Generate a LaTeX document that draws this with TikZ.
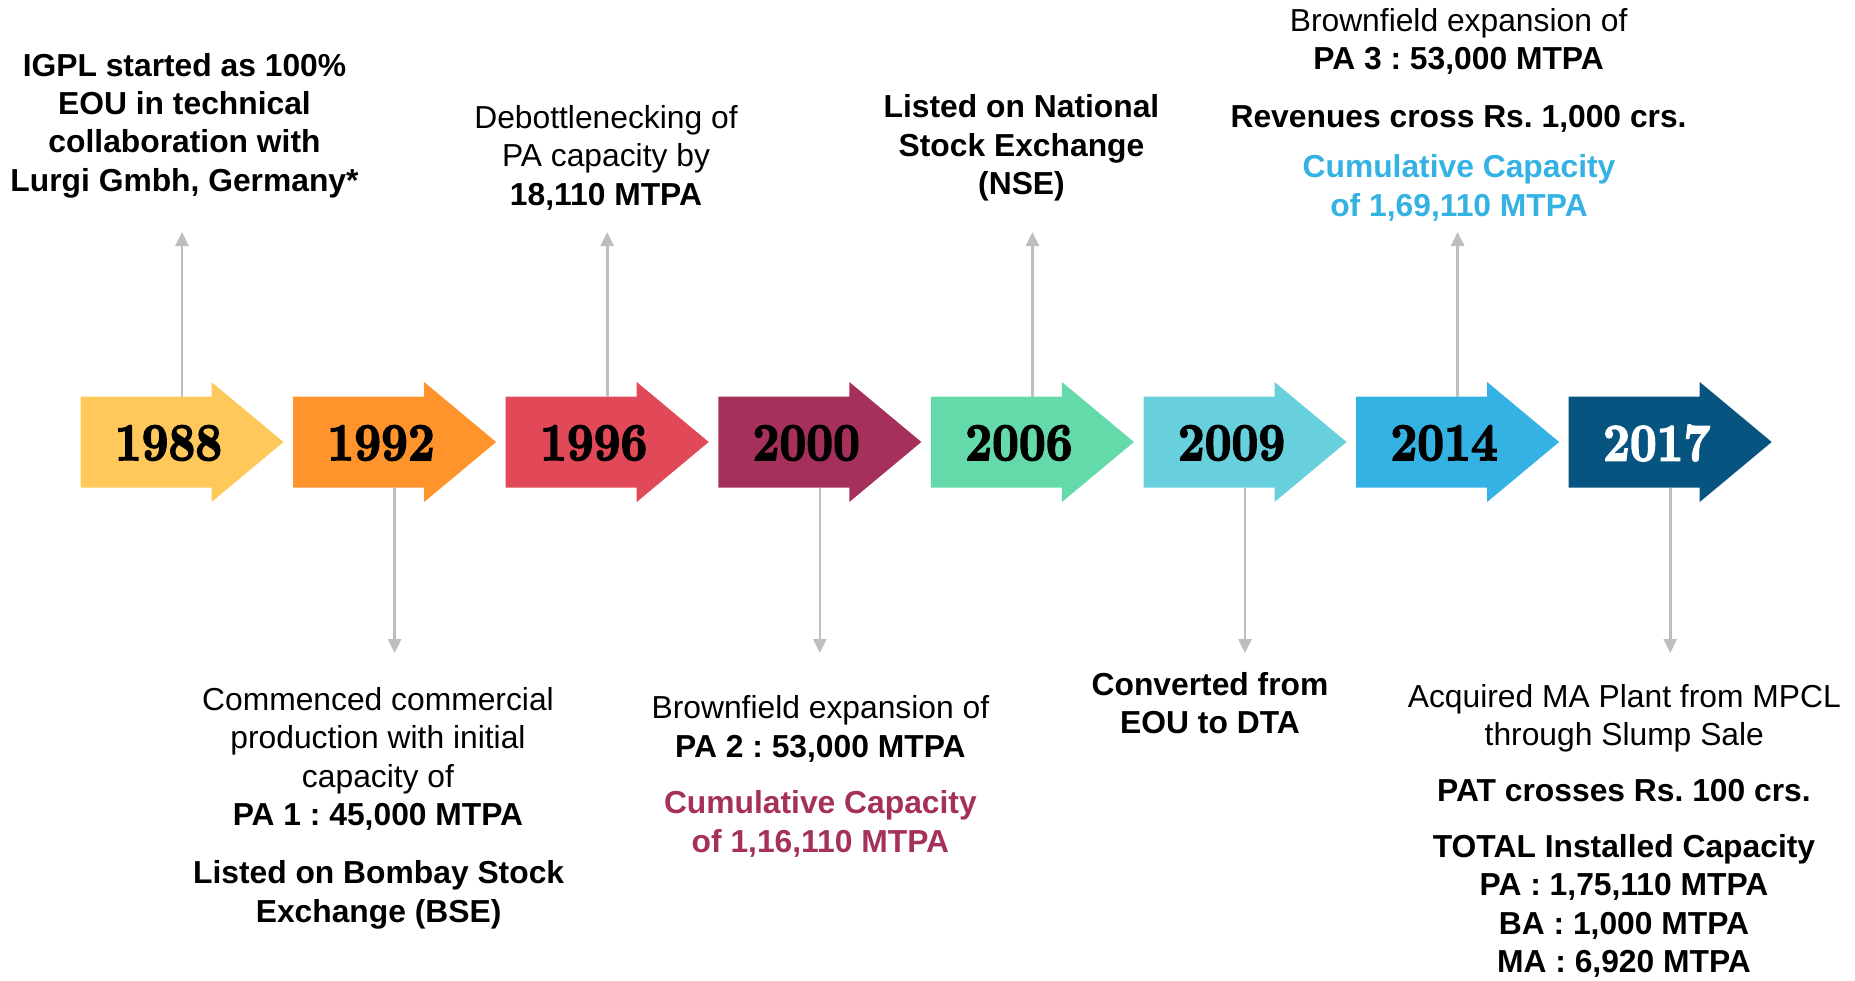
\documentclass[tikz,border=0pt]{standalone}
\usepackage{fontspec}
\usepackage{graphicx}
\newfontfamily\arialfont{Liberation Sans}
\newfontfamily\yearfont{lmroman10-bold.otf}[FakeBold=3]
\usetikzlibrary{arrows.meta,calc}
\definecolor{c1988}{RGB}{254,200,90}
\definecolor{c1992}{RGB}{255,148,44}
\definecolor{c1996}{RGB}{226,73,88}
\definecolor{c2000}{RGB}{165,48,92}
\definecolor{c2006}{RGB}{100,218,170}
\definecolor{c2009}{RGB}{103,208,220}
\definecolor{c2014}{RGB}{53,178,228}
\definecolor{c2017}{RGB}{8,84,128}
\definecolor{linegray}{RGB}{190,190,190}
\tikzset{
  shaft/.style={minimum width=131pt, minimum height=91pt, inner sep=0pt, outer sep=0pt},
  yeartxt/.style={font=\yearfont\fontsize{53}{60}\selectfont, inner sep=0pt},
  conn/.style={draw=linegray, line width=2.6pt, -{Triangle[width=13pt,length=14pt]}},
  txt/.style={font=\arialfont\fontsize{31.8}{38.4}\selectfont\frenchspacing, align=center, inner sep=0pt},
  btxt/.style={font=\arialfont\bfseries\fontsize{31.8}{38.4}\selectfont\frenchspacing, align=center, inner sep=0pt},
}
\begin{document}
\frenchspacing
\begin{tikzpicture}[x=1pt,y=-1pt]
\fill[white] (0,0) rectangle (1855,980);
\useasboundingbox (0,0) rectangle (1855,980);

\foreach \yr/\col/\tc [count=\i from 0] in {1988/c1988/black,1992/c1992/black,1996/c1996/black,2000/c2000/black,2006/c2006/black,2009/c2009/black,2014/c2014/black,2017/c2017/white} {
  \pgfmathsetmacro\L{80.5+212.6*\i}
  \node[shaft] (a\yr) at (\L+65.5,442) {};
  \fill[\col] (a\yr.north west) -- (a\yr.north east) -- ++(0,-14.5) -- ($(a\yr.east)+(72,0)$) -- ($(a\yr.south east)+(0,14.5)$) -- (a\yr.south east) -- (a\yr.south west) -- cycle;
  \node[yeartxt, text=\tc] (y\yr) at (\L+88,443) {\scalebox{0.88}[1]{\yr}};
}
% connector end points
\coordinate (t1988) at (182,232);
\coordinate (t1992) at (394.6,653);
\coordinate (t1996) at (607.2,232);
\coordinate (t2000) at (819.8,653);
\coordinate (t2006) at (1032.4,232);
\coordinate (t2009) at (1245,653);
\coordinate (t2014) at (1457.6,232);
\coordinate (t2017) at (1670.2,653);
\draw[conn] (t1988 |- a1988.north) -- (t1988);
\draw[conn] (t1992 |- a1992.south) -- (t1992);
\draw[conn] (t1996 |- a1996.north) -- (t1996);
\draw[conn] (t2000 |- a2000.south) -- (t2000);
\draw[conn] (t2006 |- a2006.north) -- (t2006);
\draw[conn] (t2009 |- a2009.south) -- (t2009);
\draw[conn] (t2014 |- a2014.north) -- (t2014);
\draw[conn] (t2017 |- a2017.south) -- (t2017);

% texts above
\node[btxt] (d1988) at (184.5,125.5) {IGPL started as 100\%\\EOU in technical\\collaboration with\\Lurgi Gmbh, Germany*};
\node[txt] (d1996) at (606,157.7) {Debottlenecking of\\PA capacity by\\\textbf{18,110 MTPA}};
\node[btxt] (d2006) at (1021.5,148) {Listed on National\\Stock Exchange\\(NSE)};
\node[txt] (d2014a) at (1458.6,41.7) {Brownfield expansion of\\\textbf{PA 3 : 53,000 MTPA}};
\node[btxt] (d2014b) at (1458.6,119) {Revenues cross Rs. 1,000 crs.};
\node[btxt, text=c2014] (d2014c) at (1459,188) {Cumulative Capacity\\of 1,69,110 MTPA};
% texts below
\node[txt] (d1992a) at (378,759) {Commenced commercial\\production with initial\\capacity of\\\textbf{PA 1 : 45,000 MTPA}};
\node[btxt] (d1992b) at (378.6,895) {Listed on Bombay Stock\\Exchange (BSE)};
\node[txt] (d2000a) at (820.4,729) {Brownfield expansion of\\\textbf{PA 2 : 53,000 MTPA}};
\node[btxt, text=c2000] (d2000b) at (820.4,824) {Cumulative Capacity\\of 1,16,110 MTPA};
\node[btxt] (d2009) at (1210,703) {Converted from\\EOU to DTA};
\node[txt] (d2017a) at (1624.3,718) {Acquired MA Plant from MPCL\\through Slump Sale};
\node[btxt] (d2017b) at (1624,791) {PAT crosses Rs. 100 crs.};
\node[btxt] (d2017c) at (1624,906) {TOTAL Installed Capacity\\PA : 1,75,110 MTPA\\BA : 1,000 MTPA\\MA : 6,920 MTPA};
\end{tikzpicture}
\end{document}
